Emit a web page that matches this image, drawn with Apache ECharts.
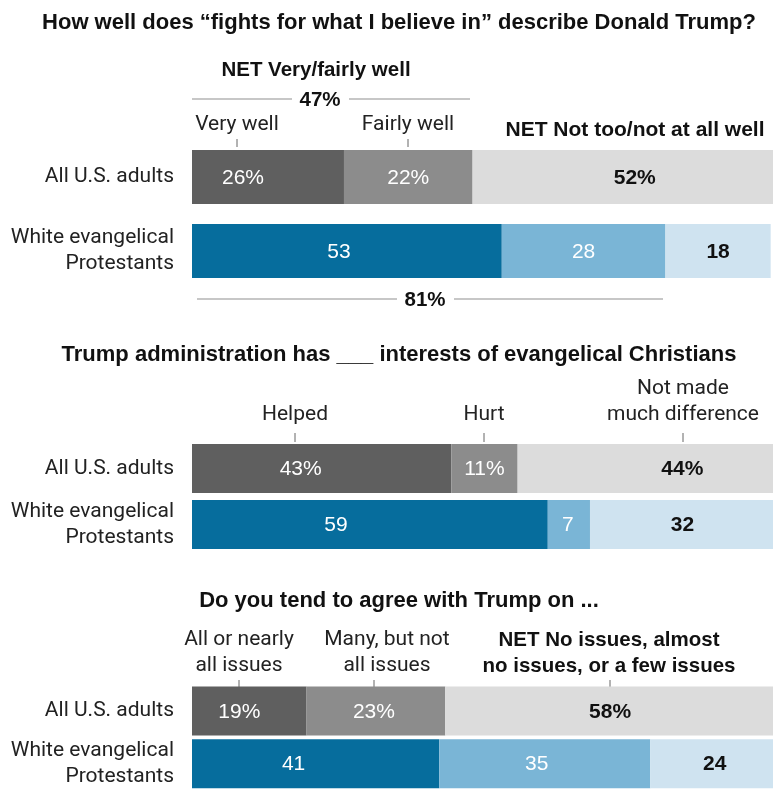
<!DOCTYPE html>
<html>
<head>
<meta charset="utf-8">
<script src="https://cdn.jsdelivr.net/npm/echarts@6/dist/echarts.min.js"></script>
<style>
  html, body { margin: 0; padding: 0; background: #fff; }
  #chart { width: 773px; height: 790px; }
</style>
</head>
<body>
<div id="chart"></div>
<script>
// Row labels shared by all three questions
const groups = ['All U.S. adults', 'White evangelical\nProtestants'];

// Q1: "fights for what I believe in"
const q1VeryWell = [26, 53];
const q1FairlyWell = [22, 28];
const q1NotWell = [52, 18];
const q1Net = [47, 81];

// Q2: administration has ___ interests of evangelical Christians
const q2Helped = [43, 59];
const q2Hurt = [11, 7];
const q2NoDifference = [44, 32];

// Q3: agree with Trump on ...
const q3AllIssues = [19, 41];
const q3ManyIssues = [23, 35];
const q3FewIssues = [58, 24];

const TEXT_FONT = 'Roboto, "Liberation Sans", sans-serif';
const BOLD_FONT = '"Liberation Sans", Arial, sans-serif';
const NUM_FONT = '"Liberation Sans", Arial, sans-serif';

// fill colours: row 0 greys, row 1 blues; index = segment
const fills = [
  ['#5f5f5f', '#8c8c8c', '#dcdcdc'],
  ['#066d9d', '#7ab5d6', '#cfe3f0']
];

// horizontal nudges of the value labels inside each (visible) segment
const labelShift = [
  [[-25, 0, 12], [-8, 0, 0]],
  [[-21, 0, 37], [-34, -1, 1]],
  [[-10, -2, 1], [-22, -8, 3]]
];

// each panel spans from x=192 to the right edge; axisMax sets its percent scale
const panels = [
  { grid: { left: 192, right: 0, top: 140, height: 148 }, barWidth: 54, axisMax: 99.4,
    series: [q1VeryWell, q1FairlyWell, q1NotWell] },
  { grid: { left: 192, right: 0, top: 440.4, height: 112 }, barWidth: 49, axisMax: 96.35,
    series: [q2Helped, q2Hurt, q2NoDifference] },
  { grid: { left: 192, right: 0, top: 684.8, height: 114 }, barWidth: 49, axisMax: 96.35,
    series: [q3AllIssues, q3ManyIssues, q3FewIssues] }
];

const grids = [], xAxes = [], yAxes = [], series = [];
panels.forEach((p, pi) => {
  grids.push(p.grid);
  xAxes.push({ gridIndex: pi, type: 'value', min: 0, max: p.axisMax, show: false });
  yAxes.push({
    gridIndex: pi, type: 'category', data: groups, inverse: true,
    axisLine: { show: false }, axisTick: { show: false }, splitLine: { show: false },
    axisLabel: {
      margin: 18, fontSize: 21, lineHeight: 26, color: '#222',
      fontFamily: TEXT_FONT, align: 'right'
    }
  });
  p.series.forEach((vals, si) => {
    series.push({
      type: 'bar',
      xAxisIndex: pi, yAxisIndex: pi,
      stack: 'panel' + pi,
      barWidth: p.barWidth,
      clip: true,
      silent: true,
      data: vals.map((v, ri) => ({
        value: v,
        itemStyle: { color: fills[ri][si] },
        label: {
          show: true,
          position: 'inside',
          offset: [labelShift[pi][ri][si], 1],
          formatter: ri === 0 ? v + '%' : String(v),
          color: si === 2 ? '#111' : '#fff',
          fontWeight: si === 2 ? 'bold' : 'normal',
          fontSize: 21,
          fontFamily: NUM_FONT
        }
      }))
    });
  });
});

function txt(text, x, y, opts) {
  opts = opts || {};
  return {
    type: 'text', silent: true,
    style: {
      text: text, x: x, y: y,
      fill: opts.fill || '#222',
      font: (opts.bold ? 'bold ' : '') + (opts.size || 21) + 'px ' + (opts.bold ? BOLD_FONT : TEXT_FONT),
      align: 'center', verticalAlign: 'middle',
      lineHeight: opts.lineHeight || 26
    }
  };
}
function rule(x1, y1, x2, y2, color, w) {
  return {
    type: 'line', silent: true,
    shape: { x1: x1, y1: y1, x2: x2, y2: y2 },
    style: { stroke: color, lineWidth: w }
  };
}
function tick(x, y1, y2) { return rule(x, y1, x, y2, '#666', 1); }

const TITLE = { bold: true, fill: '#111', size: 22 };
const HEAD = { bold: true, fill: '#111', size: 20.5 };

const graphics = [
  // question 1
  txt('How well does \u201cfights for what I believe in\u201d describe Donald Trump?', 399, 23, TITLE),
  txt('NET Very/fairly well', 316, 70, HEAD),
  rule(192, 99, 292, 99, '#b5b5b5', 1.5),
  txt(q1Net[0] + '%', 320, 100, HEAD),
  rule(349, 99, 470, 99, '#b5b5b5', 1.5),
  txt('Very well', 237, 125),
  txt('Fairly well', 408, 125),
  txt('NET Not too/not at all well', 635, 130, { bold: true, fill: '#111', size: 21 }),
  tick(237, 139, 147),
  tick(408, 139, 147),
  rule(197, 299, 397, 299, '#b5b5b5', 1.5),
  txt(q1Net[1] + '%', 425, 300, HEAD),
  rule(454, 299, 663, 299, '#b5b5b5', 1.5),

  // question 2
  txt('Trump administration has ___ interests of evangelical Christians', 399, 355, TITLE),
  txt('Helped', 295, 415),
  txt('Hurt', 484, 415),
  txt('Not made\nmuch difference', 683, 402),
  tick(295, 433, 442),
  tick(484, 433, 442),
  tick(683, 433, 442),

  // question 3
  txt('Do you tend to agree with Trump on ...', 399, 601, TITLE),
  txt('All or nearly\nall issues', 239, 653),
  txt('Many, but not\nall issues', 387, 653),
  txt('NET No issues, almost\nno issues, or a few issues', 609, 653, HEAD),
  tick(239, 680, 688),
  tick(374, 680, 688),
  tick(610, 680, 688)
];

const chart = echarts.init(document.getElementById('chart'), null, { renderer: 'canvas' });
chart.setOption({
  animation: false,
  backgroundColor: '#fff',
  grid: grids,
  xAxis: xAxes,
  yAxis: yAxes,
  series: series,
  graphic: graphics
});
</script>
</body>
</html>
